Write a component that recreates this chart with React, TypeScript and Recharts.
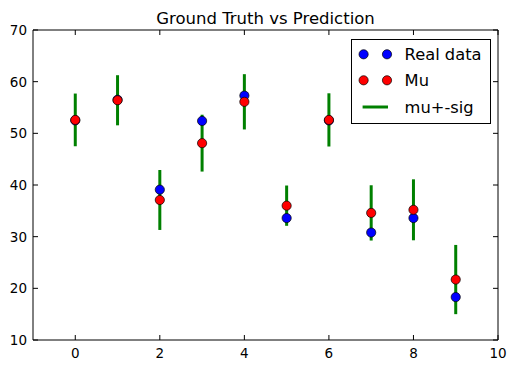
import React from "react";
import {
  ErrorBar,
  Legend,
  Scatter,
  ScatterChart,
  XAxis,
  YAxis,
} from "recharts";

// values
const xs = [0, 1, 2, 3, 4, 5, 6, 7, 8, 9];
const realData = [52.5, 56.5, 39.1, 52.4, 57.3, 33.6, 52.5, 30.8, 33.6, 18.3];
const mu = [52.6, 56.4, 37.1, 48.1, 56.1, 36.0, 52.6, 34.6, 35.2, 21.7];
const sig = [5.1, 4.85, 5.8, 5.5, 5.35, 3.9, 5.15, 5.35, 5.9, 6.7];
const xTicks = [0, 2, 4, 6, 8, 10];
const yTicks = [10, 20, 30, 40, 50, 60, 70];

const realRows = xs.map((x, i) => ({ x, y: realData[i] }));
const muRows = xs.map((x, i) => ({ x, y: mu[i], sig: sig[i] }));

const FONT = "DejaVu Sans";
const TICK_FS = 13.5;

const BottomTick = (p: any) => (
  <g>
    <line x1={p.x} y1={p.y} x2={p.x} y2={p.y - 5} stroke="#000" />
    <text x={p.x} y={p.y + 18} textAnchor="middle" fontFamily={FONT} fontSize={TICK_FS} fill="#000">
      {p.payload.value}
    </text>
  </g>
);

const TopTick = (p: any) => (
  <line x1={p.x} y1={p.y} x2={p.x} y2={p.y + 5} stroke="#000" />
);

const LeftTick = (p: any) => (
  <g>
    <line x1={p.x} y1={p.y} x2={p.x + 5} y2={p.y} stroke="#000" />
    <text x={p.x - 6} y={p.y + 5} textAnchor="end" fontFamily={FONT} fontSize={TICK_FS} fill="#000">
      {p.payload.value}
    </text>
  </g>
);

const RightTick = (p: any) => (
  <line x1={p.x} y1={p.y} x2={p.x - 5} y2={p.y} stroke="#000" />
);

const dot = (fill: string) => (props: any) => (
  <circle cx={props.cx} cy={props.cy} r={4.6} fill={fill} stroke="#000" strokeWidth={0.7} />
);

const LegendBox = () => (
  <svg width={140} height={85} style={{ display: "block" }}>
    <rect x={0.5} y={0.5} width={139} height={84} fill="#fff" stroke="#000" />
    <circle cx={12.6} cy={15.3} r={4.6} fill="#0000ff" stroke="#000" strokeWidth={0.7} />
    <circle cx={36} cy={15.3} r={4.6} fill="#0000ff" stroke="#000" strokeWidth={0.7} />
    <circle cx={12.6} cy={41.3} r={4.6} fill="#ff0000" stroke="#000" strokeWidth={0.7} />
    <circle cx={36} cy={41.3} r={4.6} fill="#ff0000" stroke="#000" strokeWidth={0.7} />
    <line x1={11.6} y1={68} x2={37} y2={68} stroke="#008000" strokeWidth={3} />
    <text x={53.6} y={21} fontFamily={FONT} fontSize={16.3} fill="#000">Real data</text>
    <text x={53.6} y={47} fontFamily={FONT} fontSize={16.3} fill="#000">Mu</text>
    <text x={53.6} y={73.5} fontFamily={FONT} fontSize={16.3} fill="#000">mu+-sig</text>
  </svg>
);

export default function App() {
  return (
    <div style={{ position: "absolute", left: 0, top: 0, width: 517, height: 370, background: "#fff" }}>
      <ScatterChart width={517} height={370} margin={{ top: 29, right: 18, bottom: 29, left: 32 }}>
        <XAxis
          dataKey="x"
          type="number"
          domain={[-1, 10]}
          ticks={xTicks}
          height={1}
          tickSize={0}
          tickMargin={0}
          tickLine={false}
          axisLine={{ stroke: "#000" }}
          tick={BottomTick}
          interval={0}
          allowDataOverflow
        />
        <XAxis
          xAxisId="top"
          orientation="top"
          dataKey="x"
          type="number"
          domain={[-1, 10]}
          ticks={xTicks}
          height={1}
          tickSize={0}
          tickMargin={0}
          tickLine={false}
          axisLine={{ stroke: "#000" }}
          tick={TopTick}
          interval={0}
          allowDataOverflow
        />
        <YAxis
          dataKey="y"
          type="number"
          domain={[10, 70]}
          ticks={yTicks}
          width={1}
          tickSize={0}
          tickMargin={0}
          tickLine={false}
          axisLine={{ stroke: "#000" }}
          tick={LeftTick}
          interval={0}
          allowDataOverflow
        />
        <YAxis
          yAxisId="right"
          orientation="right"
          dataKey="y"
          type="number"
          domain={[10, 70]}
          ticks={yTicks}
          width={1}
          tickSize={0}
          tickMargin={0}
          tickLine={false}
          axisLine={{ stroke: "#000" }}
          tick={RightTick}
          interval={0}
          allowDataOverflow
        />
        <Legend
          layout="horizontal"
          verticalAlign="middle"
          align="center"
          wrapperStyle={{ left: 351, top: 39, width: 140 }}
          content={() => <LegendBox />}
        />
        <Scatter name="mu+-sig" data={muRows} shape={() => <g />} isAnimationActive={false}>
          <ErrorBar dataKey="sig" direction="y" width={0} stroke="#008000" strokeWidth={3} isAnimationActive={false} />
        </Scatter>
        <Scatter name="Real data" data={realRows} shape={dot("#0000ff")} isAnimationActive={false} />
        <Scatter name="Mu" data={muRows} shape={dot("#ff0000")} isAnimationActive={false} />
      </ScatterChart>
      <svg width={517} height={30} style={{ position: "absolute", left: 0, top: 0, pointerEvents: "none" }}>
        <text x={265.5} y={24} textAnchor="middle" fontFamily={FONT} fontSize={16.5} fill="#000">
          Ground Truth vs Prediction
        </text>
      </svg>
    </div>
  );
}
